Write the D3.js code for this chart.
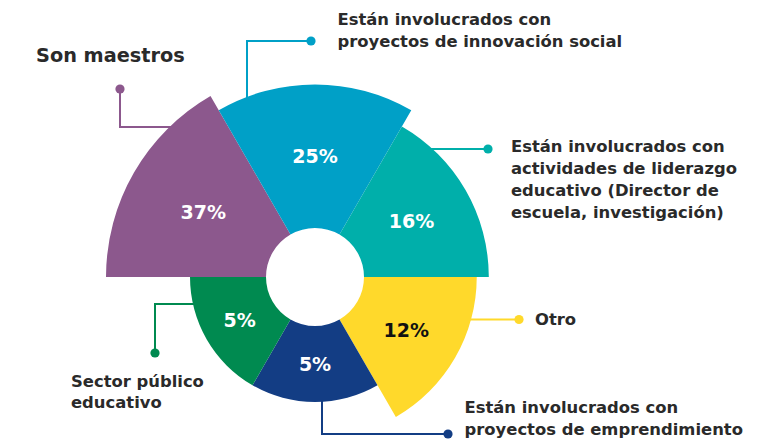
<!DOCTYPE html>
<html>
<head>
<meta charset="utf-8">
<script src="https://cdn.jsdelivr.net/npm/d3@7"></script>
<style>
  html, body { margin: 0; padding: 0; background: #fff; }
  svg { display: block; }
</style>
</head>
<body>
<svg id="chart" width="780" height="443"></svg>
<script>
// ---- data ----
const categories = [
  "Son maestros",
  "Están involucrados con proyectos de innovación social",
  "Están involucrados con actividades de liderazgo educativo (Director de escuela, investigación)",
  "Otro",
  "Están involucrados con proyectos de emprendimiento",
  "Sector público educativo"
];
const values = [37, 25, 16, 12, 5, 5];
const labelLines = [
  ["Son maestros"],
  ["Están involucrados con", "proyectos de innovación social"],
  ["Están involucrados con", "actividades de liderazgo", "educativo (Director de", "escuela, investigación)"],
  ["Otro"],
  ["Están involucrados con", "proyectos de emprendimiento"],
  ["Sector público", "educativo"]
];
const colors = ["#8C588D", "#00A0C7", "#00AFAA", "#FFD92B", "#133D84", "#008A50"];
const valueTextColors = ["#fff", "#fff", "#fff", "#111", "#fff", "#fff"];

// ---- layout ----
const svg = d3.select("#chart");
const cx = 315, cy = 277, innerR = 49;
const rScale = d3.scaleLog().domain([5, 37]).range([125, 209]);

const data = categories.map((c, i) => ({ category: c, value: values[i], i }));

const pie = d3.pie().sort(null).value(() => 1)
  .startAngle(-Math.PI / 2).endAngle(3 * Math.PI / 2);
const arcs = pie(data);
const arc = d3.arc().innerRadius(innerR).outerRadius(d => rScale(d.data.value));

// annotation layout (leader lines + text placement)
const annot = [
  { pts: [[120, 89], [120, 127], [190, 127]], x: 36, y: 62, lh: 22, size: 19.3 },
  { pts: [[311, 41], [247, 41], [247, 115]], x: 337.5, y: 25, lh: 22, size: 16.4 },
  { pts: [[488, 149], [420, 149]], x: 511, y: 151.5, lh: 22.2, size: 16.4 },
  { pts: [[519, 319.5], [450, 319.5]], x: 535, y: 325, lh: 22, size: 16.4 },
  { pts: [[448, 434], [322, 434], [322, 385]], x: 464.5, y: 413, lh: 22, size: 16.4 },
  { pts: [[155, 353], [155, 304], [215, 304]], x: 71, y: 387, lh: 20.5, size: 16.4 }
];

const gLines = svg.append("g");
annot.forEach((a, i) => {
  gLines.append("path")
    .attr("d", d3.line()(a.pts))
    .attr("fill", "none")
    .attr("stroke", colors[i])
    .attr("stroke-width", 2);
});

const g = svg.append("g").attr("transform", `translate(${cx},${cy})`);
g.selectAll("path.slice").data(arcs).join("path")
  .attr("class", "slice")
  .attr("d", arc)
  .attr("fill", d => colors[d.data.i]);

g.selectAll("text.val").data(arcs).join("text")
  .attr("class", "val")
  .attr("transform", d => `translate(${arc.centroid(d)})`)
  .attr("text-anchor", "middle")
  .attr("dy", "0.36em")
  .attr("font-family", "'DejaVu Sans', sans-serif")
  .attr("font-weight", "bold")
  .attr("font-size", 19)
  .attr("fill", d => valueTextColors[d.data.i])
  .text(d => d.data.value + "%");

// dots
annot.forEach((a, i) => {
  svg.append("circle")
    .attr("cx", a.pts[0][0]).attr("cy", a.pts[0][1]).attr("r", 4.6)
    .attr("fill", colors[i]);
});

// labels
annot.forEach((a, i) => {
  const t = svg.append("text")
    .attr("font-family", "'DejaVu Sans', sans-serif")
    .attr("font-weight", "bold")
    .attr("font-size", a.size)
    .attr("fill", "#2a2a2a");
  labelLines[i].forEach((ln, k) => {
    t.append("tspan").attr("x", a.x).attr("y", a.y + k * a.lh).text(ln);
  });
});
</script>
</body>
</html>
